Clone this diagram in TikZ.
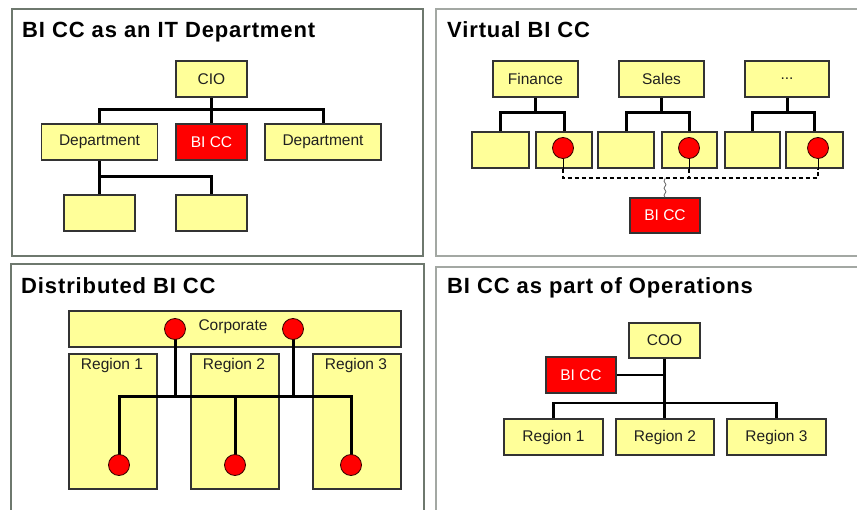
\documentclass[tikz,border=0pt]{standalone}
\usepackage{fontspec}
\setmainfont{Liberation Sans}
\newfontfamily\titlefont[LetterSpace=4.0]{Liberation Sans}
\usetikzlibrary{decorations.pathmorphing}
\definecolor{boxfill}{HTML}{FFFF99}
\definecolor{boxline}{HTML}{333333}
\definecolor{frameL}{HTML}{6E786E}
\definecolor{frameR}{HTML}{A3A8A3}
\definecolor{txt}{HTML}{202020}
\tikzset{
  frameleft/.style={draw=frameL, line width=2pt},
  frameright/.style={draw=frameR, line width=1.5pt},
  paneltitle/.style={anchor=base west, inner sep=0pt, text=black,
    font=\titlefont\bfseries\fontsize{22}{24}\selectfont},
  ybox/.style={draw=boxline, fill=boxfill, line width=1.3pt, inner sep=0pt,
    text=txt, font=\fontsize{15.5}{16}\selectfont},
  rbox/.style={ybox, fill=red, text=white},
  lbl/.style={inner sep=0pt, text=txt, font=\fontsize{15.5}{16}\selectfont},
  dot/.style={circle, draw=black!80!red, fill=red, line width=0.8pt,
    minimum size=21pt, inner sep=0pt},
  link/.style={draw=black, line width=3pt},
  linkthin/.style={draw=black, line width=2.5pt},
  stub/.style={draw=black, line width=0.9pt},
  dotted link/.style={draw=black, line width=1.2pt, dash pattern=on 4pt off 3pt},
}
\begin{document}
\begin{tikzpicture}[x=1pt, y=-1pt]
\useasboundingbox (0,0) rectangle (857,510);
\fill[white] (0,0) rectangle (857,510);

% ---------- frames ----------
\draw[frameleft]  (12,9)   rectangle (423,256);
\draw[frameleft]  (11,264) rectangle (424,530);
\draw[frameright] (436,9)  rectangle (880,256);
\draw[frameright] (436,267) rectangle (880,530);

% ---------- titles ----------
\node[paneltitle] (t1) at (22,38)  {BI CC as an IT Department};
\node[paneltitle] (t2) at (447,38) {Virtual BI CC};
\node[paneltitle] (t3) at (21,294) {Distributed BI CC};
\node[paneltitle] (t4) at (447,294) {BI CC as part of Operations};

% ---------- BI CC as an IT Department ----------
\node[ybox, minimum width=71pt, minimum height=36pt] (cio) at (211.5,79) {CIO};
\node[ybox, minimum width=116pt, minimum height=36pt] (dep1) at (99.5,142) {Department};
\node[rbox, minimum width=71pt, minimum height=36pt] (bicc1) at (211.5,142) {BI CC};
\node[ybox, minimum width=116pt, minimum height=36pt] (dep2) at (323,142) {Department};
\node[ybox, minimum width=71pt, minimum height=36pt] (sub1) at (99.5,213) {};
\node[ybox, minimum width=71pt, minimum height=36pt] (sub2) at (211.5,213) {};
\coordinate (j1) at (211.5,110);
\coordinate (j2) at (99.5,177);
\draw[link] (cio.south) -- (bicc1.north);
\draw[link] (dep1.north) |- (j1) -| (dep2.north);
\draw[link] (dep1.south) -- (sub1.north);
\draw[link] (j2) -| (sub2.north);

% ---------- Virtual BI CC ----------
\node[ybox, minimum width=85pt, minimum height=36pt] (fin) at (535.5,79) {Finance};
\node[ybox, minimum width=85pt, minimum height=36pt] (sal) at (661.5,79) {Sales};
\node[ybox, minimum width=84pt, minimum height=36pt] (etc) at (787,79) {...};
\node[ybox, minimum width=57pt, minimum height=36pt] (c1) at (500.5,150) {};
\node[ybox, minimum width=56pt, minimum height=36pt] (c2) at (564,150) {};
\node[ybox, minimum width=56pt, minimum height=36pt] (c3) at (626,150) {};
\node[ybox, minimum width=55pt, minimum height=36pt] (c4) at (689.5,150) {};
\node[ybox, minimum width=55pt, minimum height=36pt] (c5) at (752.5,150) {};
\node[ybox, minimum width=57pt, minimum height=36pt] (c6) at (814.5,150) {};
\coordinate (fj) at (535.5,113);
\coordinate (sj) at (661.5,113);
\coordinate (ej) at (787,113);
\draw[link] (fin.south) -- (fj);
\draw[link] (c1.north) |- (fj) -| (c2.north);
\draw[link] (sal.south) -- (sj);
\draw[link] (c3.north) |- (sj) -| (c4.north);
\draw[link] (etc.south) -- (ej);
\draw[link] (c5.north) |- (ej) -| (c6.north);

\node[dot] (d1) at (563,148) {};
\node[dot] (d2) at (689,148) {};
\node[dot] (d3) at (818,148) {};
\coordinate (v1) at (563,178);
\coordinate (v3) at (818,178);
\draw[stub] (d1.south) -- (d1.south |- c2.south);
\draw[stub] (d2.south) -- (d2.south |- c4.south);
\draw[stub] (d3.south) -- (d3.south |- c6.south);
\draw[dotted link] (d1.south |- c2.south) -- (v1) -- (v3) -- (d3.south |- c6.south);
\draw[dotted link] (d2.south |- c4.south) -- (d2.south |- v1);

\node[rbox, minimum width=70pt, minimum height=35pt] (bicc2) at (665,215.5) {BI CC};
\draw[draw=black!60, line width=0.8pt, decorate,
      decoration={snake, amplitude=1pt, segment length=7pt}]
  (bicc2.north) -- (bicc2.north |- v1);

% ---------- Distributed BI CC ----------
\node[ybox, minimum width=332pt, minimum height=36pt] (corp) at (235,329) {};
\node[lbl] (corptxt) at (233,327) {Corporate};
\node[ybox, minimum width=88pt, minimum height=135pt] (reg1) at (113,421.5) {};
\node[ybox, minimum width=88pt, minimum height=135pt] (reg2) at (235,421.5) {};
\node[ybox, minimum width=88pt, minimum height=135pt] (reg3) at (357,421.5) {};
\node[lbl, anchor=base] (reg1txt) at (112,370) {Region 1};
\node[lbl, anchor=base] (reg2txt) at (234,370) {Region 2};
\node[lbl, anchor=base] (reg3txt) at (356,370) {Region 3};

\coordinate (ta) at (175,329);
\coordinate (tb) at (293,329);
\coordinate (ba) at (119,465);
\coordinate (bb) at (235,465);
\coordinate (bc) at (351,465);
\coordinate (ka) at (175,397);
\coordinate (kb) at (293,397);
\draw[link] (ta) -- (ka) -- (kb) -- (tb);
\draw[link] (ba) |- (ka) -| (bc);
\draw[link] (bb) -- (bb |- ka);
\node[dot] (tad) at (ta) {};
\node[dot] (tbd) at (tb) {};
\node[dot] (bad) at (ba) {};
\node[dot] (bbd) at (bb) {};
\node[dot] (bcd) at (bc) {};

% ---------- BI CC as part of Operations ----------
\node[ybox, minimum width=71pt, minimum height=35pt] (coo) at (664.5,340.5) {COO};
\node[rbox, minimum width=70pt, minimum height=36pt] (bicc4) at (581,375) {BI CC};
\node[ybox, minimum width=99pt, minimum height=36pt] (r1) at (553.5,437) {Region 1};
\node[ybox, minimum width=98pt, minimum height=36pt] (r2) at (665,437) {Region 2};
\node[ybox, minimum width=99pt, minimum height=36pt] (r3) at (776.5,437) {Region 3};
\coordinate (q) at (664.5,403);
\draw[linkthin] (coo.south) -- (coo.south |- r2.north);
\draw[linkthin] (bicc4.east) -- (bicc4.east -| coo.south);
\draw[linkthin] (r1.north) |- (q) -| (r3.north);
\end{tikzpicture}
\end{document}
